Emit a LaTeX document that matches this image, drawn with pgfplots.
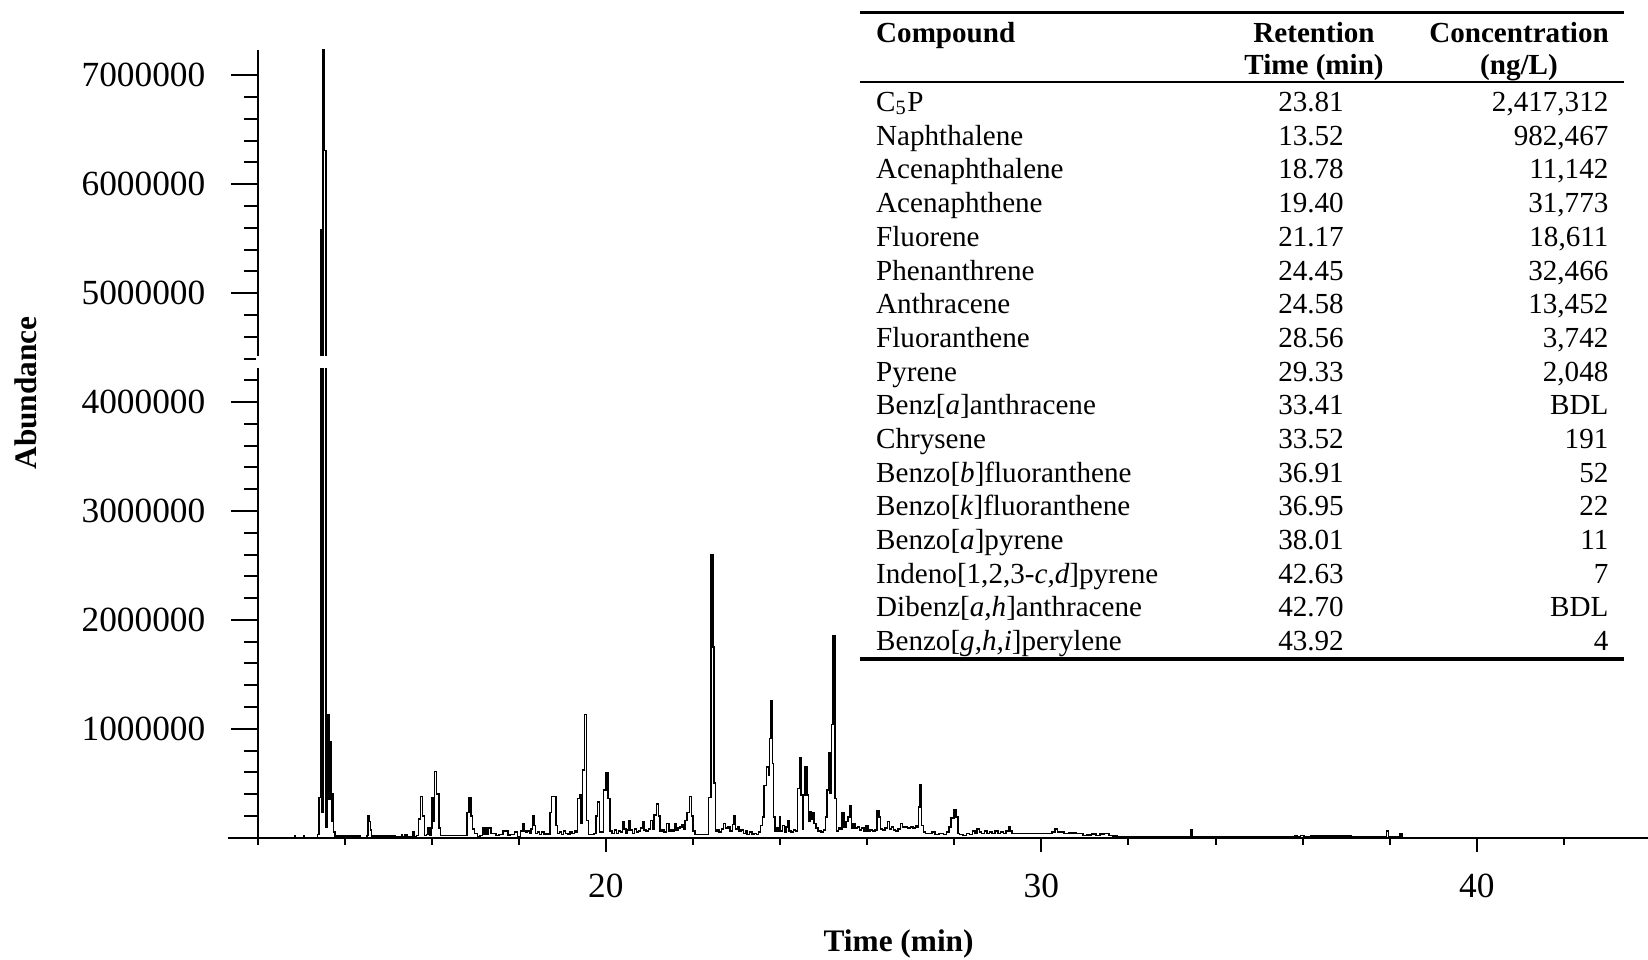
\documentclass[border=0pt]{standalone}
\usepackage{fontspec}
\setmainfont{Liberation Serif}
\usepackage{pgfplots}
\pgfplotsset{compat=1.18}
\usepackage{pgfplotstable}

\pgfplotstableread{
t a
12.80 0
12.85 0
12.86 15000
12.87 0
13.06 0
13.07 15000
13.08 0
13.36 0
13.40 30000
13.43 370000
13.46 5580000
13.48 230000
13.52 7600000
13.555 6310000
13.59 100000
13.635 1130000
13.66 350000
13.68 880000
13.71 150000
13.73 400000
13.76 50000
13.79 15000
14.36 15000
14.38 0
14.50 0
14.53 20000
14.55 200000
14.58 150000
14.61 70000
14.63 10000
14.65 15000
15.15 15000
15.18 5000
15.30 5000
15.32 25000
15.35 5000
15.42 25000
15.45 5000
15.56 5000
15.58 50000
15.62 10000
15.68 20000
15.71 170000
15.77 380000
15.81 200000
15.86 20000
15.90 30000
15.94 90000
15.97 20000
15.99 90000
16.02 370000
16.05 150000
16.09 610000
16.12 400000
16.15 400000
16.18 90000
16.22 20000
16.80 20000
16.83 230000
16.89 370000
16.92 200000
16.96 80000
17.00 40000
17.03 40000
17.07 10000
17.15 20000
17.19 90000
17.22 30000
17.25 90000
17.28 30000
17.31 90000
17.35 90000
17.38 40000
17.45 40000
17.50 20000
17.60 30000
17.68 60000
17.73 60000
17.78 25000
17.85 30000
17.95 50000
17.98 10000
18.02 10000
18.06 60000
18.10 130000
18.14 60000
18.18 50000
18.22 60000
18.27 40000
18.30 80000
18.33 200000
18.37 110000
18.40 40000
18.45 50000
18.50 30000
18.55 50000
18.60 30000
18.65 40000
18.70 30000
18.73 230000
18.78 380000
18.83 380000
18.87 110000
18.91 40000
18.96 50000
19.00 30000
19.05 60000
19.10 40000
19.15 30000
19.20 50000
19.25 40000
19.30 60000
19.33 50000
19.37 360000
19.41 390000
19.44 130000
19.48 620000
19.54 1130000
19.57 160000
19.62 30000
19.70 30000
19.75 40000
19.79 200000
19.83 330000
19.87 50000
19.92 50000
19.98 440000
20.02 600000
20.07 360000
20.12 60000
20.17 40000
20.22 70000
20.27 40000
20.32 60000
20.36 50000
20.40 150000
20.44 80000
20.48 40000
20.52 70000
20.55 160000
20.59 70000
20.63 40000
20.68 80000
20.72 50000
20.77 60000
20.81 90000
20.86 150000
20.90 70000
20.95 60000
21.00 80000
21.05 160000
21.09 80000
21.13 210000
21.19 310000
21.22 200000
21.26 60000
21.31 70000
21.36 50000
21.43 130000
21.47 60000
21.52 70000
21.56 60000
21.59 130000
21.63 70000
21.68 90000
21.73 100000
21.77 120000
21.80 80000
21.84 160000
21.89 230000
21.95 380000
21.98 200000
22.02 60000
22.07 30000
22.15 30000
22.25 30000
22.32 30000
22.39 370000
22.44 2600000
22.47 1750000
22.50 500000
22.53 60000
22.58 70000
22.62 50000
22.68 80000
22.73 130000
22.77 90000
22.83 100000
22.88 60000
22.93 120000
22.96 200000
23.00 80000
23.04 100000
23.08 60000
23.13 70000
23.18 40000
23.22 60000
23.27 30000
23.33 50000
23.38 30000
23.43 40000
23.48 30000
23.53 50000
23.58 110000
23.61 190000
23.66 480000
23.72 650000
23.75 570000
23.77 910000
23.81 1260000
23.83 680000
23.87 190000
23.90 60000
23.93 90000
23.97 60000
24.00 190000
24.03 60000
24.08 110000
24.12 50000
24.16 100000
24.19 160000
24.23 60000
24.28 50000
24.33 70000
24.38 60000
24.42 450000
24.46 730000
24.50 390000
24.52 80000
24.55 390000
24.60 650000
24.63 390000
24.67 150000
24.71 240000
24.74 170000
24.76 230000
24.80 130000
24.85 90000
24.90 60000
24.97 50000
25.02 70000
25.07 190000
25.09 440000
25.13 780000
25.17 410000
25.20 1040000
25.24 1850000
25.28 360000
25.32 60000
25.36 90000
25.40 80000
25.45 230000
25.49 100000
25.53 150000
25.58 190000
25.62 290000
25.65 90000
25.70 130000
25.75 90000
25.80 100000
25.85 70000
25.90 90000
25.95 60000
25.99 110000
26.04 60000
26.10 70000
26.15 60000
26.20 70000
26.26 250000
26.29 190000
26.33 80000
26.38 70000
26.44 90000
26.49 150000
26.53 80000
26.58 100000
26.63 70000
26.68 60000
26.74 80000
26.79 130000
26.84 100000
26.90 100000
26.96 90000
27.02 100000
27.08 90000
27.13 110000
27.16 100000
27.19 280000
27.23 490000
27.27 110000
27.31 50000
27.36 40000
27.45 40000
27.52 50000
27.60 30000
27.70 40000
27.80 30000
27.85 50000
27.90 100000
27.96 180000
28.02 260000
28.06 190000
28.10 40000
28.15 30000
28.25 20000
28.32 40000
28.38 30000
28.45 60000
28.50 40000
28.55 80000
28.60 50000
28.66 40000
28.72 60000
28.78 40000
28.84 50000
28.90 40000
28.97 60000
29.03 40000
29.10 50000
29.16 40000
29.22 60000
29.26 100000
29.30 60000
29.35 40000
30.20 40000
30.28 50000
30.35 80000
30.40 50000
30.48 50000
30.55 40000
30.70 45000
30.90 40000
31.00 20000
31.10 25000
31.20 35000
31.30 20000
31.40 35000
31.50 40000
31.60 20000
31.70 15000
31.80 10000
32.00 8000
33.40 8000
33.44 70000
33.48 8000
35.80 8000
35.85 20000
35.90 8000
36.00 20000
36.05 8000
36.30 15000
37.10 15000
37.12 5000
37.90 5000
37.95 60000
38.00 10000
38.22 10000
38.26 35000
38.30 3000
}\chrom

\newcommand{\trow}[4]{%
  \node[anchor=base west] at (875.5,{848.4-33.69*#1}) {#2};
  \node[anchor=base] at (1311,{848.4-33.69*#1}) {#3};
  \node[anchor=base east] at (1609,{848.4-33.69*#1}) {#4};}

\begin{document}
\begin{tikzpicture}
\useasboundingbox (0,0) rectangle (494.4pt,288pt);
\begin{axis}[
  at={(77.25pt,36.69pt)}, anchor=south west,
  scale only axis, width=417.15pt, height=236.31pt,
  xmin=12, xmax=43.93, ymin=0, ymax=7233000,
  axis lines*=left,
  axis line style={line width=0.6pt},
  clip mode=individual,
  xtick={20,30,40}, xticklabels={20,30,40},
  xtick style={draw=none},
  ytick={1000000,2000000,3000000,4000000,5000000,6000000,7000000},
  yticklabels={1000000,2000000,3000000,4000000,5000000,6000000,7000000},
  minor ytick={200000,400000,600000,800000,1200000,1400000,1600000,1800000,2200000,2400000,2600000,2800000,3200000,3400000,3600000,3800000,4200000,4400000,4600000,4800000,5200000,5400000,5600000,5800000,6200000,6400000,6600000,6800000},
  tick align=outside,
  major tick length=8pt, minor tick length=4pt,
  ytick style={line width=0.6pt, black},
  scaled y ticks=false,
  /pgf/number format/assume math mode=true,
  tick label style={font=\fontsize{10.6}{12}\selectfont},
  yticklabel style={anchor=east, inner sep=0pt, xshift=-7.45pt},
  xticklabel style={anchor=north, inner sep=0pt, yshift=-2.8pt},
]
\addplot[black, line width=0.45pt, line join=miter, const plot mark mid, mark=none] table[x=t,y=a] {\chrom};
\draw[line width=0.6pt] (axis cs:11.32,0) -- (axis cs:12,0);
\pgfplotsinvokeforeach{12,14,16,18,22,24,26,28,32,34,36,38,42}{\draw[line width=0.6pt] (axis cs:#1,0) -- ([yshift=-2.1pt]axis cs:#1,0);}
\pgfplotsinvokeforeach{20,30,40}{\draw[line width=0.6pt] (axis cs:#1,0) -- ([yshift=-4.4pt]axis cs:#1,0);}
\coordinate (brA) at (axis cs:12,4315000);
\coordinate (brB) at (axis cs:13.7,4420000);
\end{axis}
\fill[white] ([xshift=-0.6pt]brA) rectangle (brB);
\begin{scope}[x=0.3pt,y=0.3pt, every node/.style={inner sep=0pt, font=\fontsize{8.73}{10}\selectfont}]
  \draw[line width=1.1pt] (859.7,947.4) -- (1623.9,947.4);
  \draw[line width=0.75pt] (859.7,878) -- (1623.9,878);
  \draw[line width=1.1pt] (859.7,301) -- (1623.9,301);
  \node[anchor=base west, font=\fontsize{8.73}{10}\selectfont\bfseries] at (875.5,917.8) {Compound};
  \node[anchor=base, font=\fontsize{8.73}{10}\selectfont\bfseries] at (1314,917.8) {Retention};
  \node[anchor=base, font=\fontsize{8.73}{10}\selectfont\bfseries] at (1314,885.2) {Time (min)};
  \node[anchor=base, font=\fontsize{8.73}{10}\selectfont\bfseries] at (1519,917.8) {Concentration};
  \node[anchor=base, font=\fontsize{8.73}{10}\selectfont\bfseries] at (1519,885.2) {(ng/L)};
  \trow{0}{C\textsubscript{5}P}{23.81}{2,417,312}
  \trow{1}{Naphthalene}{13.52}{982,467}
  \trow{2}{Acenaphthalene}{18.78}{11,142}
  \trow{3}{Acenaphthene}{19.40}{31,773}
  \trow{4}{Fluorene}{21.17}{18,611}
  \trow{5}{Phenanthrene}{24.45}{32,466}
  \trow{6}{Anthracene}{24.58}{13,452}
  \trow{7}{Fluoranthene}{28.56}{3,742}
  \trow{8}{Pyrene}{29.33}{2,048}
  \trow{9}{Benz[\textit{a}]anthracene}{33.41}{BDL}
  \trow{10}{Chrysene}{33.52}{191}
  \trow{11}{Benzo[\textit{b}]fluoranthene}{36.91}{52}
  \trow{12}{Benzo[\textit{k}]fluoranthene}{36.95}{22}
  \trow{13}{Benzo[\textit{a}]pyrene}{38.01}{11}
  \trow{14}{Indeno[1,2,3-\textit{c,d}]pyrene}{42.63}{7}
  \trow{15}{Dibenz[\textit{a,h}]anthracene}{42.70}{BDL}
  \trow{16}{Benzo[\textit{g,h,i}]perylene}{43.92}{4}
  \node[anchor=base, font=\fontsize{9.4}{11}\selectfont\bfseries] at (898.6,8) {Time (min)};
  \node[anchor=base, rotate=90, font=\fontsize{9.4}{11}\selectfont\bfseries] at (36.5,567) {Abundance};
\end{scope}
\end{tikzpicture}
\end{document}
